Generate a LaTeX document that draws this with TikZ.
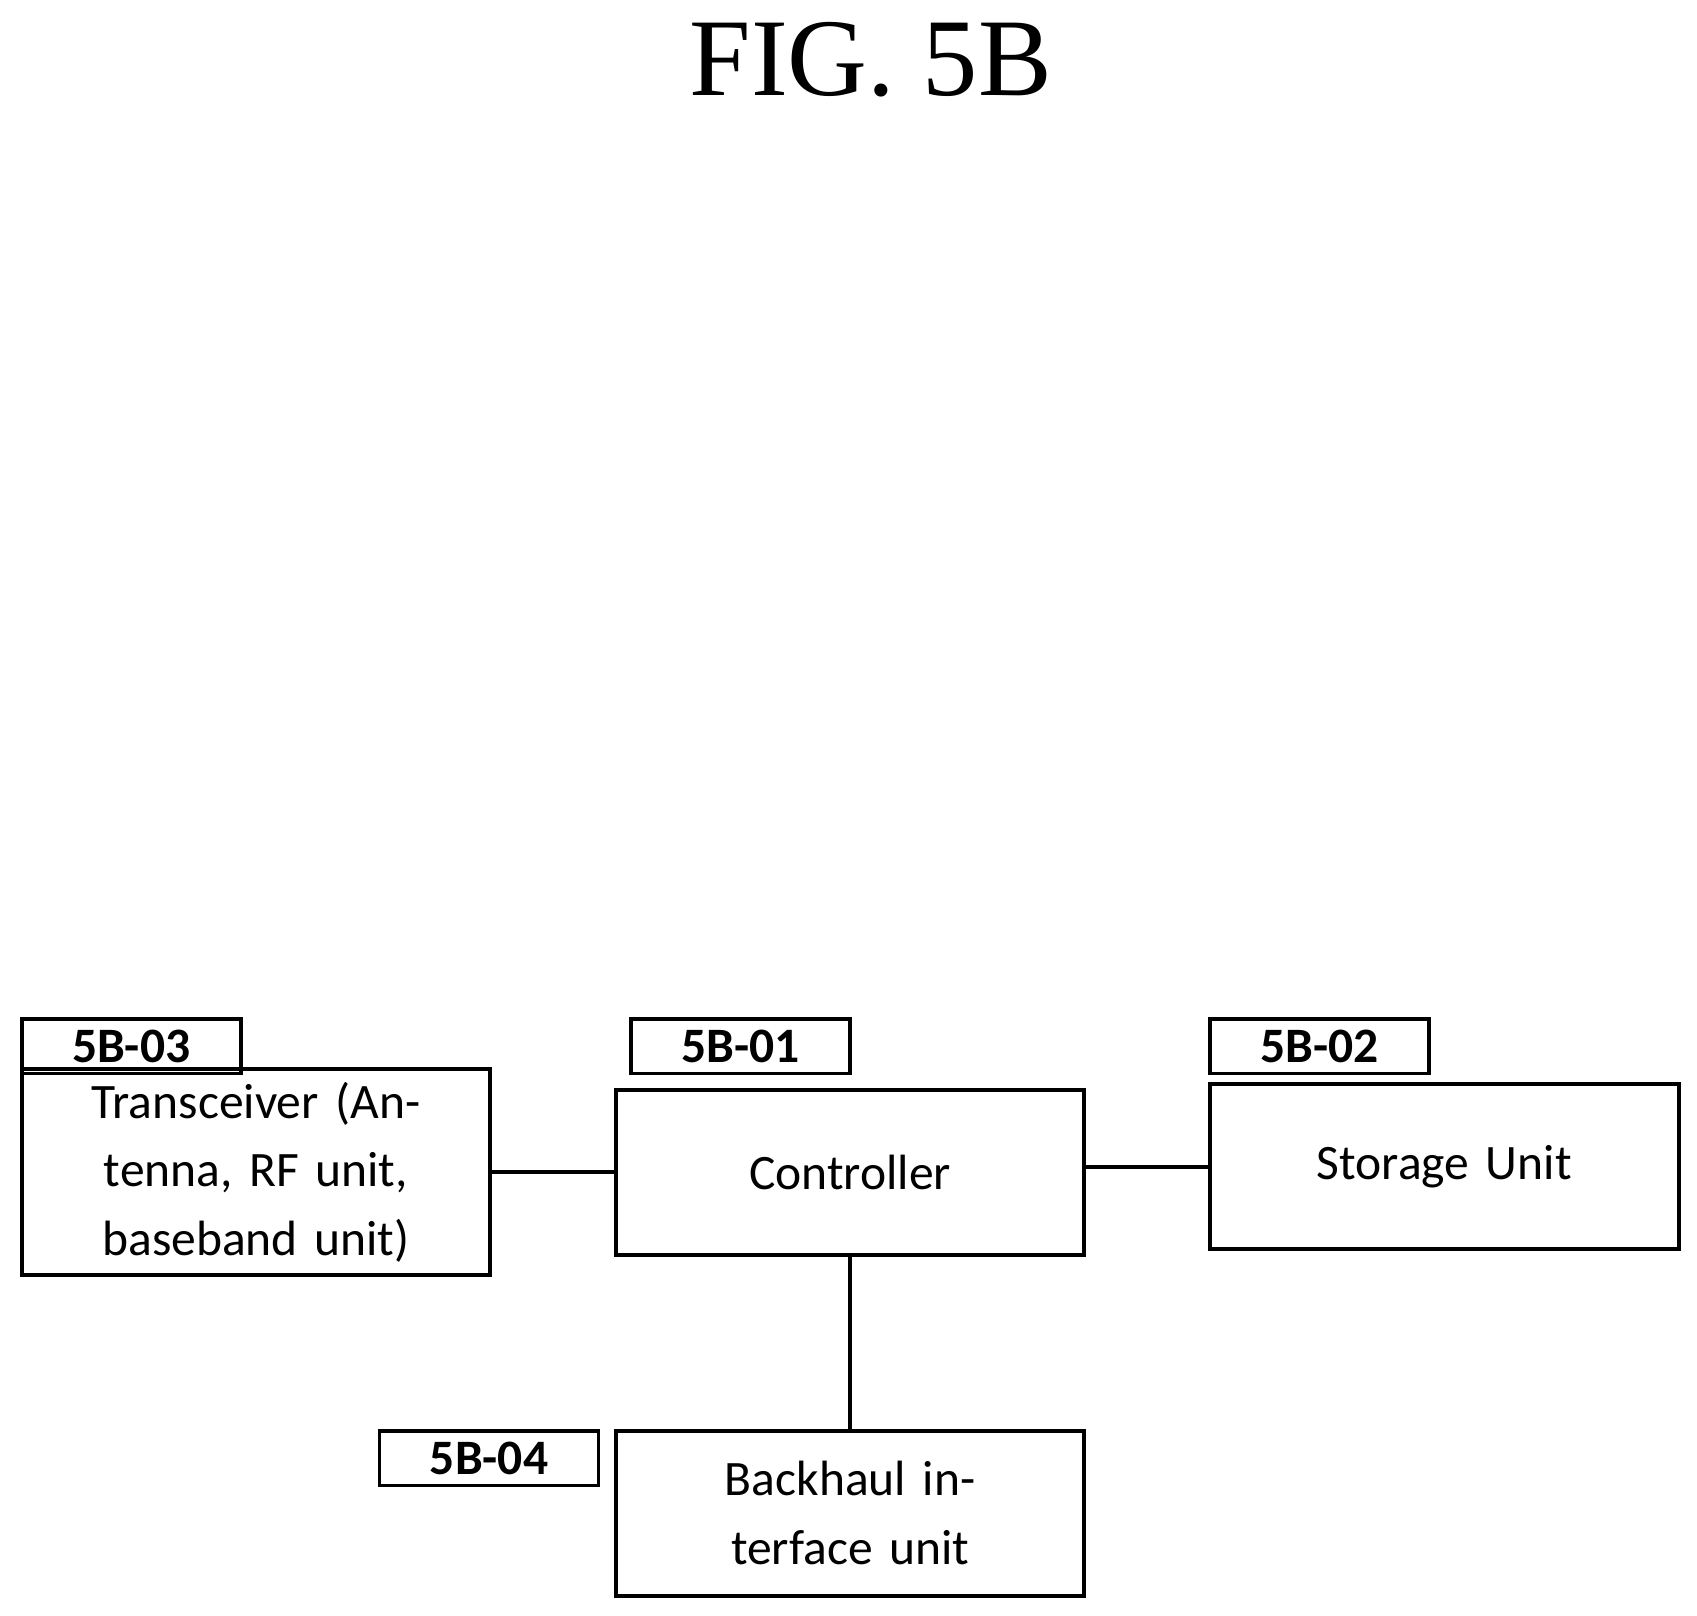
\documentclass[tikz,border=0pt]{standalone}
\usepackage{fontspec}
\setmainfont{Carlito}
\newfontfamily\figfont{Liberation Serif}
\usetikzlibrary{positioning}
\tikzstyle{unit}=[draw, line width=1pt, minimum width=4.32cm, minimum height=1.52cm,
  text width=4.0cm, align=center, font=\fontsize{13pt}{18pt}\selectfont]
\tikzstyle{tag}=[draw, line width=1pt, minimum width=2.02cm, minimum height=0.5cm,
  inner sep=0pt, font=\bfseries\fontsize{13pt}{15pt}\selectfont]
\tikzstyle{link}=[draw, line width=1pt]
\begin{document}
\begin{tikzpicture}
  \useasboundingbox (0,0) rectangle (15.65,-14.9);

  % title
  \node (TITLE) at (8.03,-0.55) {\figfont\fontsize{29pt}{32pt}\selectfont FIG. 5B};

  % units
  \node (TRANSCEIVER) [unit] at (2.36,-10.81) {Transceiver (Antenna, RF unit, baseband unit)};
  \node (CONTROLLER) [unit] at (7.84,-10.81) {Controller};
  \node (STORAGE) [unit] at (13.32,-10.76) {Storage Unit};
  \node (BACKHAUL) [unit] at (7.84,-13.955) {Backhaul interface unit};

  % reference tags
  \node (TAGTRANS) [tag] at (1.21,-9.65) {5B-03};
  \node (TAGCTRL) [tag] at (6.83,-9.65) {5B-01};
  \node (TAGSTORE) [tag] at (12.17,-9.65) {5B-02};
  \node (TAGBACK) [tag] at (4.51,-13.45) {5B-04};

  % connections
  \path [link] (TRANSCEIVER.east) -- (CONTROLLER.west |- TRANSCEIVER.east);
  \path [link] (CONTROLLER.east |- STORAGE.west) -- (STORAGE.west);
  \path [link] (CONTROLLER.south) -- (BACKHAUL.north);
\end{tikzpicture}
\end{document}
